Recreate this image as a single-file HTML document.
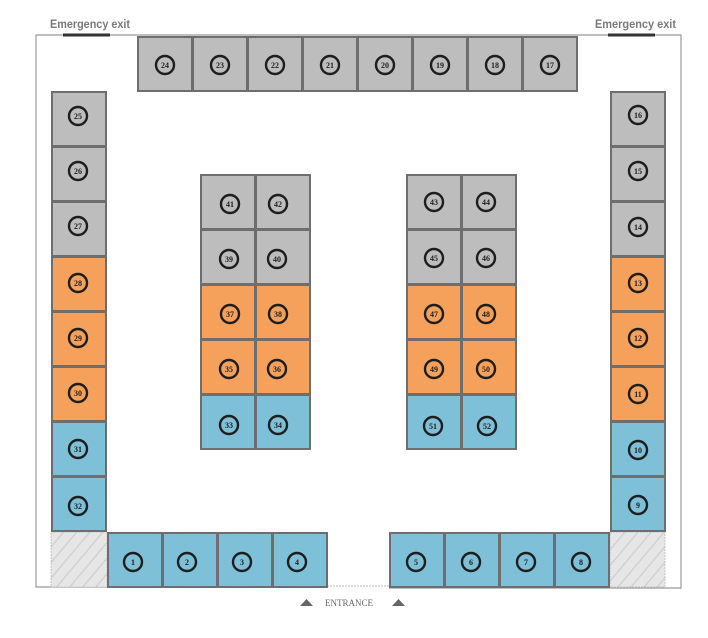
<!DOCTYPE html>
<html><head><meta charset="utf-8"><style>
html,body{margin:0;padding:0;background:#fff;width:708px;height:638px;overflow:hidden}
svg{display:block}
.g{fill:#bdbdbd}.o{fill:#f5a15b}.b{fill:#7ec0d7}
.bx{stroke:#6e6e6e;stroke-width:2}
.c{fill:none;stroke:#1e1e1e;stroke-width:2.4}
.t{font-family:"Liberation Serif",serif;font-size:8px;font-weight:bold;fill:#222;text-anchor:middle}
.ex{font-family:"Liberation Sans",sans-serif;font-size:12px;font-weight:bold;fill:#7a7a7a}
</style></head><body>
<svg width="708" height="638" viewBox="0 0 708 638">
<defs>
<pattern id="h" width="10" height="10" patternUnits="userSpaceOnUse" patternTransform="rotate(40)">
<rect width="10" height="10" fill="#e6e6e6"/><line x1="0" y1="0" x2="0" y2="10" stroke="#d2d2d2" stroke-width="3"/>
</pattern>
</defs>
<path d="M327 587 H36 V35 H681 V588 H389" fill="none" stroke="#999" stroke-width="1.2"/>
<line x1="327" y1="586" x2="389" y2="586" stroke="#bbb" stroke-width="1" stroke-dasharray="2,1"/>
<text class="ex" x="50" y="28" textLength="80" lengthAdjust="spacingAndGlyphs">Emergency exit</text>
<line x1="63" y1="35" x2="110" y2="35" stroke="#333" stroke-width="3"/>
<text class="ex" x="595" y="28" textLength="81" lengthAdjust="spacingAndGlyphs">Emergency exit</text>
<line x1="608" y1="35" x2="655" y2="35" stroke="#333" stroke-width="3"/>
<rect x="51" y="532" width="56" height="55" fill="url(#h)" stroke="#bbb" stroke-width="0.8" stroke-dasharray="2,1"/>
<rect x="610" y="532" width="55" height="55" fill="url(#h)" stroke="#bbb" stroke-width="0.8" stroke-dasharray="2,1"/>

<g>
<rect class="g bx" x="138" y="37" width="54" height="54"/><circle class="c" cx="165" cy="65" r="9"/><text class="t" x="165" y="68">24</text>
<rect class="g bx" x="193" y="37" width="54" height="54"/><circle class="c" cx="220" cy="65" r="9"/><text class="t" x="220" y="68">23</text>
<rect class="g bx" x="248" y="37" width="54" height="54"/><circle class="c" cx="275" cy="65" r="9"/><text class="t" x="275" y="68">22</text>
<rect class="g bx" x="303" y="37" width="54" height="54"/><circle class="c" cx="330" cy="65" r="9"/><text class="t" x="330" y="68">21</text>
<rect class="g bx" x="358" y="37" width="54" height="54"/><circle class="c" cx="385" cy="65" r="9"/><text class="t" x="385" y="68">20</text>
<rect class="g bx" x="413" y="37" width="54" height="54"/><circle class="c" cx="440" cy="65" r="9"/><text class="t" x="440" y="68">19</text>
<rect class="g bx" x="468" y="37" width="54" height="54"/><circle class="c" cx="495" cy="65" r="9"/><text class="t" x="495" y="68">18</text>
<rect class="g bx" x="523" y="37" width="54" height="54"/><circle class="c" cx="550" cy="65" r="9"/><text class="t" x="550" y="68">17</text>
</g>
<g>
<rect class="g bx" x="52" y="92" width="54" height="54"/><circle class="c" cx="78" cy="116" r="9"/><text class="t" x="78" y="119">25</text>
<rect class="g bx" x="52" y="147" width="54" height="54"/><circle class="c" cx="78" cy="171" r="9"/><text class="t" x="78" y="174">26</text>
<rect class="g bx" x="52" y="202" width="54" height="54"/><circle class="c" cx="78" cy="226" r="9"/><text class="t" x="78" y="229">27</text>
<rect class="o bx" x="52" y="257" width="54" height="54"/><circle class="c" cx="78" cy="283" r="9"/><text class="t" x="78" y="286">28</text>
<rect class="o bx" x="52" y="312" width="54" height="54"/><circle class="c" cx="78" cy="338" r="9"/><text class="t" x="78" y="341">29</text>
<rect class="o bx" x="52" y="367" width="54" height="54"/><circle class="c" cx="78" cy="393" r="9"/><text class="t" x="78" y="396">30</text>
<rect class="b bx" x="52" y="422" width="54" height="54"/><circle class="c" cx="78" cy="449" r="9"/><text class="t" x="78" y="452">31</text>
<rect class="b bx" x="52" y="477" width="54" height="54"/><circle class="c" cx="78" cy="506" r="9"/><text class="t" x="78" y="509">32</text>
</g>
<g>
<rect class="g bx" x="611" y="92" width="54" height="54"/><circle class="c" cx="638" cy="115" r="9"/><text class="t" x="638" y="118">16</text>
<rect class="g bx" x="611" y="147" width="54" height="54"/><circle class="c" cx="638" cy="171" r="9"/><text class="t" x="638" y="174">15</text>
<rect class="g bx" x="611" y="202" width="54" height="54"/><circle class="c" cx="638" cy="227" r="9"/><text class="t" x="638" y="230">14</text>
<rect class="o bx" x="611" y="257" width="54" height="54"/><circle class="c" cx="638" cy="283" r="9"/><text class="t" x="638" y="286">13</text>
<rect class="o bx" x="611" y="312" width="54" height="54"/><circle class="c" cx="638" cy="338" r="9"/><text class="t" x="638" y="341">12</text>
<rect class="o bx" x="611" y="367" width="54" height="54"/><circle class="c" cx="638" cy="394" r="9"/><text class="t" x="638" y="397">11</text>
<rect class="b bx" x="611" y="422" width="54" height="54"/><circle class="c" cx="638" cy="450" r="9"/><text class="t" x="638" y="453">10</text>
<rect class="b bx" x="611" y="477" width="54" height="54"/><circle class="c" cx="638" cy="505" r="9"/><text class="t" x="638" y="508">9</text>
</g>
<g>
<rect class="b bx" x="108" y="533" width="54" height="54"/><circle class="c" cx="133" cy="562" r="9"/><text class="t" x="133" y="565">1</text>
<rect class="b bx" x="163" y="533" width="54" height="54"/><circle class="c" cx="187" cy="562" r="9"/><text class="t" x="187" y="565">2</text>
<rect class="b bx" x="218" y="533" width="54" height="54"/><circle class="c" cx="242" cy="562" r="9"/><text class="t" x="242" y="565">3</text>
<rect class="b bx" x="273" y="533" width="54" height="54"/><circle class="c" cx="297" cy="562" r="9"/><text class="t" x="297" y="565">4</text>
<rect class="b bx" x="390" y="533" width="54" height="54"/><circle class="c" cx="416" cy="562" r="9"/><text class="t" x="416" y="565">5</text>
<rect class="b bx" x="445" y="533" width="54" height="54"/><circle class="c" cx="471" cy="562" r="9"/><text class="t" x="471" y="565">6</text>
<rect class="b bx" x="500" y="533" width="54" height="54"/><circle class="c" cx="526" cy="562" r="9"/><text class="t" x="526" y="565">7</text>
<rect class="b bx" x="555" y="533" width="54" height="54"/><circle class="c" cx="581" cy="562" r="9"/><text class="t" x="581" y="565">8</text>
</g>
<g>
<rect class="g bx" x="201" y="175" width="54" height="54"/><circle class="c" cx="230" cy="204" r="9"/><text class="t" x="230" y="207">41</text>
<rect class="g bx" x="256" y="175" width="54" height="54"/><circle class="c" cx="278" cy="204" r="9"/><text class="t" x="278" y="207">42</text>
<rect class="g bx" x="201" y="230" width="54" height="54"/><circle class="c" cx="229" cy="259" r="9"/><text class="t" x="229" y="262">39</text>
<rect class="g bx" x="256" y="230" width="54" height="54"/><circle class="c" cx="277" cy="259" r="9"/><text class="t" x="277" y="262">40</text>
<rect class="o bx" x="201" y="285" width="54" height="54"/><circle class="c" cx="230" cy="314" r="9"/><text class="t" x="230" y="317">37</text>
<rect class="o bx" x="256" y="285" width="54" height="54"/><circle class="c" cx="278" cy="314" r="9"/><text class="t" x="278" y="317">38</text>
<rect class="o bx" x="201" y="340" width="54" height="54"/><circle class="c" cx="229" cy="369" r="9"/><text class="t" x="229" y="372">35</text>
<rect class="o bx" x="256" y="340" width="54" height="54"/><circle class="c" cx="277" cy="369" r="9"/><text class="t" x="277" y="372">36</text>
<rect class="b bx" x="201" y="395" width="54" height="54"/><circle class="c" cx="229" cy="425" r="9"/><text class="t" x="229" y="428">33</text>
<rect class="b bx" x="256" y="395" width="54" height="54"/><circle class="c" cx="278" cy="425" r="9"/><text class="t" x="278" y="428">34</text>
</g>
<g>
<rect class="g bx" x="407" y="175" width="54" height="54"/><circle class="c" cx="434" cy="202" r="9"/><text class="t" x="434" y="205">43</text>
<rect class="g bx" x="462" y="175" width="54" height="54"/><circle class="c" cx="486" cy="202" r="9"/><text class="t" x="486" y="205">44</text>
<rect class="g bx" x="407" y="230" width="54" height="54"/><circle class="c" cx="434" cy="258" r="9"/><text class="t" x="434" y="261">45</text>
<rect class="g bx" x="462" y="230" width="54" height="54"/><circle class="c" cx="486" cy="258" r="9"/><text class="t" x="486" y="261">46</text>
<rect class="o bx" x="407" y="285" width="54" height="54"/><circle class="c" cx="434" cy="314" r="9"/><text class="t" x="434" y="317">47</text>
<rect class="o bx" x="462" y="285" width="54" height="54"/><circle class="c" cx="486" cy="314" r="9"/><text class="t" x="486" y="317">48</text>
<rect class="o bx" x="407" y="340" width="54" height="54"/><circle class="c" cx="434" cy="369" r="9"/><text class="t" x="434" y="372">49</text>
<rect class="o bx" x="462" y="340" width="54" height="54"/><circle class="c" cx="486" cy="369" r="9"/><text class="t" x="486" y="372">50</text>
<rect class="b bx" x="407" y="395" width="54" height="54"/><circle class="c" cx="433" cy="426" r="9"/><text class="t" x="433" y="429">51</text>
<rect class="b bx" x="462" y="395" width="54" height="54"/><circle class="c" cx="487" cy="426" r="9"/><text class="t" x="487" y="429">52</text>
</g>
<polygon points="300,606 313,606 306.5,599" fill="#666"/>
<polygon points="392,606 405,606 398.5,599" fill="#666"/>
<text x="349" y="606" font-family="Liberation Serif,serif" font-size="9" fill="#666" text-anchor="middle">ENTRANCE</text>
</svg>
</body></html>
